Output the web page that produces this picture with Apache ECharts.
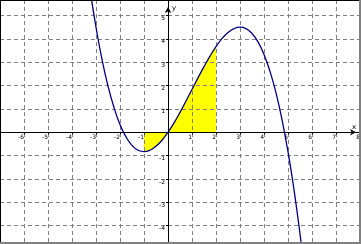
<!DOCTYPE html>
<html>
<head>
<meta charset="utf-8">
<script src="https://cdn.jsdelivr.net/npm/echarts@6/dist/echarts.min.js"></script>
<style>
html,body{margin:0;padding:0;background:#fff;}
#c{width:361px;height:244px;}
</style>
</head>
<body>
<div id="c"></div>
<script>
// Curve samples
var curveX = [-3.5,-3.25,-3,-2.75,-2.5,-2.25,-2,-1.75,-1.5,-1.25,-1,-0.75,-0.5,-0.25,0,0.25,0.5,0.75,1,1.25,1.5,1.75,2,2.25,2.5,2.75,3,3.25,3.5,3.75,4,4.25,4.5,4.75,5,5.25,5.5,5.75];
var curveY = [8.02,6.13,4.5,3.12,1.98,1.06,0.33,-0.2,-0.56,-0.77,-0.83,-0.77,-0.6,-0.34,0,0.4,0.85,1.34,1.83,2.33,2.81,3.26,3.67,4.01,4.27,4.44,4.5,4.44,4.23,3.87,3.33,2.61,1.69,0.54,-0.83,-2.46,-4.35,-6.53];
// Shaded region (x from -1 to 2)
var fillX = [-1,-0.75,-0.5,-0.25,0,0.25,0.5,0.75,1,1.25,1.5,1.75,2];
var fillY = [-0.83,-0.77,-0.6,-0.34,0,0.4,0.85,1.34,1.83,2.33,2.81,3.26,3.67];
// Tick labels
var xTickLabels = [-6,-5,-4,-3,-2,-1,1,2,3,4,5,6,7,8];
var yTickLabels = [-4,-3,-2,-1,1,2,3,4,5];

function pairs(xs, ys){ return xs.map(function(x,i){ return [x, ys[i]]; }); }

var X_MIN = -7, X_MAX = 8.042, Y_MIN = -5, Y_MAX = 5.666;
var W = 361, H = 244, GRID_BOTTOM = -5;
var gridH = H - GRID_BOTTOM;
var zeroFromBottom = gridH * (0 - Y_MIN) / (Y_MAX - Y_MIN);
var zeroFromLeft = W * (0 - X_MIN) / (X_MAX - X_MIN);

var chart = echarts.init(document.getElementById('c'), null, {renderer:'canvas'});
var grayDash = {show:true, lineStyle:{color:'#808080', width:1, type:[4,3]}};
chart.setOption({
  animation:false,
  backgroundColor:'#ffffff',
  grid:{left:0, right:0, top:0, bottom:GRID_BOTTOM, containLabel:false, outerBoundsMode:'none'},
  xAxis:{
    type:'value', min:X_MIN, max:X_MAX, interval:1, z:2,
    position:'bottom', offset:-zeroFromBottom,
    name:'x', nameLocation:'end', nameGap:-9,
    nameTextStyle:{fontSize:7, color:'#000', fontFamily:'DejaVu Sans', verticalAlign:'bottom', padding:[0,0,2,0]},
    axisLine:{onZero:false, lineStyle:{color:'#000', width:1}, symbol:['none','arrow'], symbolSize:[5,6], symbolOffset:[0,-5]},
    axisTick:{show:true, length:2, lineStyle:{color:'#000'}},
    axisLabel:{show:true, fontSize:6, color:'#000', fontFamily:'DejaVu Sans', margin:2, align:'right', showMinLabel:true, showMaxLabel:true, hideOverlap:false,
      formatter:function(v){ return xTickLabels.indexOf(Math.round(v))>=0 && Math.abs(v-Math.round(v))<1e-6 ? String(Math.round(v)) : ''; }},
    splitLine:grayDash
  },
  yAxis:{
    type:'value', min:Y_MIN, max:Y_MAX, interval:1, z:2,
    position:'left', offset:-zeroFromLeft,
    name:'y', nameLocation:'end', nameGap:-12,
    nameTextStyle:{fontSize:7, color:'#000', fontFamily:'DejaVu Sans', align:'left', padding:[0,0,0,4]},
    axisLine:{onZero:false, lineStyle:{color:'#000', width:1}, symbol:['none','arrow'], symbolSize:[5,6], symbolOffset:[0,-7]},
    axisTick:{show:true, length:2, lineStyle:{color:'#000'}},
    axisLabel:{show:true, fontSize:6, color:'#000', fontFamily:'DejaVu Sans', margin:3, verticalAlign:'top', showMinLabel:true, showMaxLabel:true, hideOverlap:false,
      formatter:function(v){ return yTickLabels.indexOf(Math.round(v))>=0 && Math.abs(v-Math.round(v))<1e-6 ? String(Math.round(v)) : ''; }},
    splitLine:grayDash
  },
  series:[
    {type:'line', z:1, data:pairs(fillX, fillY), smooth:true, showSymbol:false, symbol:'none',
     lineStyle:{width:0, color:'#ffff00'}, areaStyle:{color:'#ffff00', opacity:1, origin:0}},
    {type:'line', z:3, data:pairs(curveX, curveY), smooth:true, showSymbol:false, symbol:'none',
     lineStyle:{width:1.3, color:'#000080'}}
  ],
  graphic:[
    {type:'rect', shape:{x:0,y:0,width:361,height:1}, style:{fill:'#000'}, z:100},
    {type:'rect', shape:{x:0,y:0,width:1,height:244}, style:{fill:'#000'}, z:100},
    {type:'rect', shape:{x:359,y:0,width:2,height:244}, style:{fill:'#808080'}, z:100},
    {type:'rect', shape:{x:0,y:242,width:361,height:2}, style:{fill:'#808080'}, z:100}
  ]
});
</script>
</body>
</html>
